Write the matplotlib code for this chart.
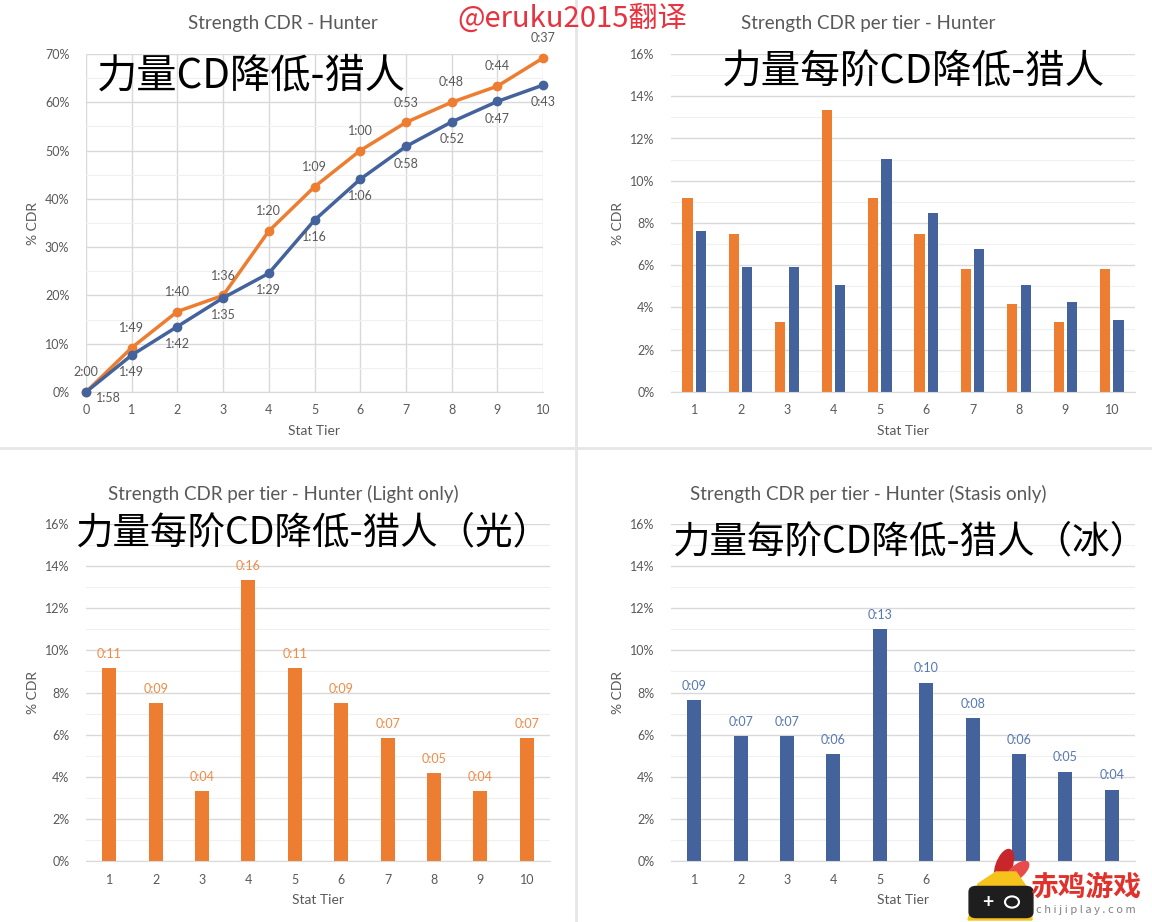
import matplotlib
matplotlib.use("Agg")
import matplotlib.pyplot as plt
from matplotlib.ticker import PercentFormatter, MultipleLocator
from matplotlib.patches import Polygon, Ellipse, FancyBboxPatch, Circle

plt.rcParams['font.family'] = ['Lato', 'Noto Sans CJK SC', 'DejaVu Sans']

# --- data ---
tiers_all = [0, 1, 2, 3, 4, 5, 6, 7, 8, 9, 10]
tiers = [1, 2, 3, 4, 5, 6, 7, 8, 9, 10]

light_total = [0.0, 9.17, 16.67, 20.0, 33.33, 42.5, 50.0, 55.83, 60.0, 63.33, 69.17]
stasis_total = [0.0, 7.63, 13.56, 19.49, 24.58, 35.59, 44.07, 50.85, 55.93, 60.17, 63.56]
light_time = ['2:00', '1:49', '1:40', '1:36', '1:20', '1:09', '1:00', '0:53', '0:48', '0:44', '0:37']
stasis_time = ['1:58', '1:49', '1:42', '1:35', '1:29', '1:16', '1:06', '0:58', '0:52', '0:47', '0:43']

light_tier = [9.17, 7.5, 3.33, 13.33, 9.17, 7.5, 5.83, 4.17, 3.33, 5.83]
stasis_tier = [7.63, 5.93, 5.93, 5.08, 11.02, 8.47, 6.78, 5.08, 4.24, 3.39]
light_gain = ['0:11', '0:09', '0:04', '0:16', '0:11', '0:09', '0:07', '0:05', '0:04', '0:07']
stasis_gain = ['0:09', '0:07', '0:07', '0:06', '0:13', '0:10', '0:08', '0:06', '0:05', '0:04']
# ticks 7-10 of the last chart are hidden under the site logo in the reference
stasis_ticklabels = ['1', '2', '3', '4', '5', '6', '', '', '', '']

ORANGE = '#ED7D31'
BLUE = '#44629C'
GRAY = '#595959'
GRID = '#D9D9D9'

W, H = 1152, 922
fig = plt.figure(figsize=(W / 100, H / 100), dpi=100)
fig.patch.set_facecolor('white')


def px(x0, y0, x1, y1):
    # pixel box (top-left origin) -> figure fraction rect
    return [x0 / W, 1 - y1 / H, (x1 - x0) / W, (y1 - y0) / H]


def fx(x, y):
    return (x / W, 1 - y / H)


def style(ax, ymax, major, minor):
    ax.set_ylim(0, ymax)
    ax.yaxis.set_major_locator(MultipleLocator(major))
    ax.yaxis.set_minor_locator(MultipleLocator(minor))
    ax.yaxis.set_major_formatter(PercentFormatter(decimals=0))
    ax.grid(axis='y', which='major', color=GRID, lw=1)
    ax.grid(axis='y', which='minor', color='#F0F0F0', lw=0.8)
    ax.set_axisbelow(True)
    for s in ['top', 'right', 'left']:
        ax.spines[s].set_visible(False)
    ax.spines['bottom'].set_color(GRID)
    ax.tick_params(which='both', length=0, labelsize=9, colors=GRAY)
    ax.tick_params(axis='y', pad=12)
    ax.tick_params(axis='x', pad=9)
    ax.set_ylabel('% CDR', color=GRAY, fontsize=10, labelpad=4)
    ax.set_xlabel('Stat Tier', color=GRAY, fontsize=10, labelpad=6)


def title(x, y, s):
    fig.text(x / W, 1 - y / H, s, color=GRAY, fontsize=13.5, ha='center', va='center')


# top-left: cumulative CDR
ax1 = fig.add_axes(px(86, 54, 543, 392))
style(ax1, 70, 10, 5)
ax1.set_xlim(0, 10)
ax1.set_xticks(tiers_all)
ax1.grid(axis='x', color=GRID, lw=1)
ax1.plot(tiers_all, light_total, color=ORANGE, lw=2.5, marker='o', ms=6, clip_on=False, zorder=3)
ax1.plot(tiers_all, stasis_total, color=BLUE, lw=2.5, marker='o', ms=6, clip_on=False, zorder=3)
for i, (x, y) in enumerate(zip(tiers_all, light_total)):
    ax1.annotate(light_time[i], (x, y), xytext=(0, 10), textcoords='offset points',
                 ha='center', va='bottom', fontsize=9, color=GRAY)
for i, (x, y) in enumerate(zip(tiers_all, stasis_total)):
    if i == 0:
        ax1.annotate(stasis_time[i], (x, y), xytext=(16, -4), textcoords='offset points',
                     ha='center', va='center', fontsize=9, color=GRAY)
    else:
        ax1.annotate(stasis_time[i], (x, y), xytext=(0, -8), textcoords='offset points',
                     ha='center', va='top', fontsize=9, color=GRAY)
title(283, 24, 'Strength CDR - Hunter')

# top-right: per tier both
ax2 = fig.add_axes(px(671, 54, 1135, 392))
style(ax2, 16, 2, 1)
ax2.set_xlim(0.5, 10.5)
ax2.set_xticks(tiers)
ax2.bar([t - 0.145 for t in tiers], light_tier, width=0.22, color=ORANGE)
ax2.bar([t + 0.145 for t in tiers], stasis_tier, width=0.22, color=BLUE)
title(868, 24, 'Strength CDR per tier - Hunter')

# bottom-left: light only
ax3 = fig.add_axes(px(86, 524, 550, 861))
style(ax3, 16, 2, 1)
ax3.set_xlim(0.5, 10.5)
ax3.set_xticks(tiers)
bars3 = ax3.bar(tiers, light_tier, width=0.3, color=ORANGE)
ax3.bar_label(bars3, labels=light_gain, padding=6, fontsize=9, color='#F08A45')
title(283, 494, 'Strength CDR per tier - Hunter (Light only)')

# bottom-right: stasis only
ax4 = fig.add_axes(px(671, 524, 1135, 861))
style(ax4, 16, 2, 1)
ax4.set_xlim(0.5, 10.5)
ax4.set_xticks(tiers, stasis_ticklabels)
bars4 = ax4.bar(tiers, stasis_tier, width=0.3, color=BLUE)
ax4.bar_label(bars4, labels=stasis_gain, padding=6, fontsize=9, color='#5677B0')
title(868, 494, 'Strength CDR per tier - Hunter (Stasis only)')

# panel separators
fig.add_artist(plt.Line2D([576 / W, 576 / W], [0, 1], color='#E6E6E6', lw=2))
fig.add_artist(plt.Line2D([0, 1], [1 - 448 / H, 1 - 448 / H], color='#E6E6E6', lw=2))

# Chinese captions pasted over the charts
cjk = ['Noto Sans CJK SC', 'DejaVu Sans']
fig.text(97 / W, 1 - 76 / H, '力量CD降低-猎人', family=cjk, fontsize=29, color='black', va='center', ha='left')
fig.text(722 / W, 1 - 72 / H, '力量每阶CD降低-猎人', family=cjk, fontsize=28.5, color='black', va='center', ha='left')
fig.text(75 / W, 1 - 533 / H, '力量每阶CD降低-猎人（光）', family=cjk, fontsize=27, color='black', va='center', ha='left')
fig.text(672 / W, 1 - 542 / H, '力量每阶CD降低-猎人（冰）', family=cjk, fontsize=27, color='black', va='center', ha='left')

# translator watermark
fig.text(572 / W, 1 - 19 / H, '@eruku2015翻译', family=cjk, fontsize=21, color='#E8323F', va='center', ha='center')

# site logo (bottom right)
fig.add_artist(Ellipse(fx(1004, 866), 16 / W, 34 / H, angle=-15, color='#C8262B', zorder=10))
fig.add_artist(Ellipse(fx(1017, 872), 14 / W, 26 / H, angle=-40, color='#E84B4B', zorder=10))
fig.add_artist(Polygon([fx(968, 920), fx(978, 884), fx(996, 872), fx(1016, 872),
                        fx(1030, 892), fx(1032, 920)], closed=True, color='#F6C21C', zorder=11))
fig.add_artist(FancyBboxPatch(fx(976, 912), 50 / W, 20 / H, boxstyle='round,pad=0.006',
                              color='#1E1E1E', zorder=12))
fig.add_artist(Circle(fx(1012, 902), 7 / W, fill=False, ec='white', lw=1.5, zorder=13))
fig.text(988 / W, 1 - 902 / H, '+', color='white', fontsize=14, fontweight='bold',
         ha='center', va='center', zorder=13)
fig.text(1086 / W, 1 - 888 / H, '赤鸡游戏', family=cjk, fontsize=20, fontweight='bold',
         color='#E0312B', va='center', ha='center', zorder=13)
fig.text(1086 / W, 1 - 910 / H, 'c h i j i p l a y . c o m', family=cjk, fontsize=8,
         color='#808080', va='center', ha='center', zorder=13)

fig.savefig('out.png', dpi=100, facecolor='white')
